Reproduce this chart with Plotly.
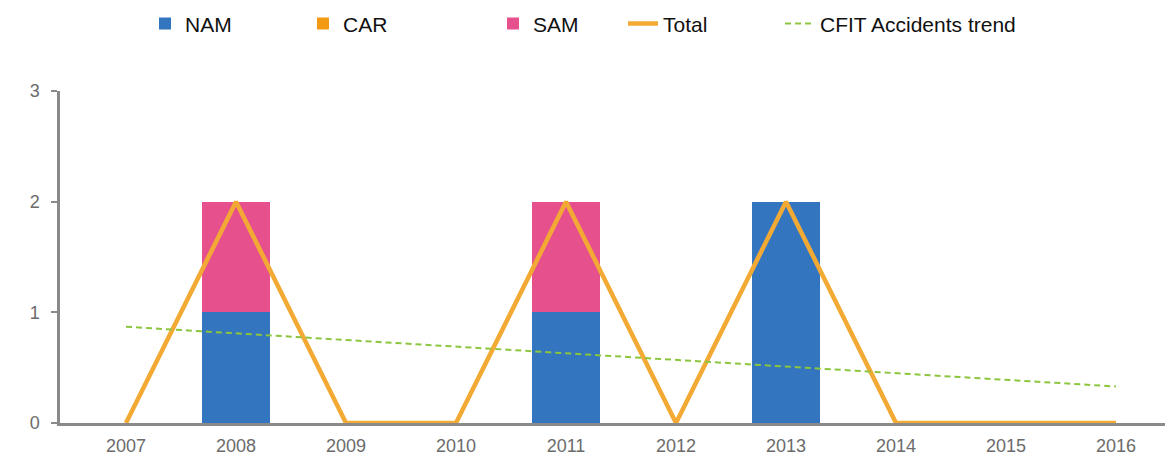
import plotly.graph_objects as go

years = ["2007", "2008", "2009", "2010", "2011", "2012", "2013", "2014", "2015", "2016"]
nam = [0, 1, 0, 0, 1, 0, 2, 0, 0, 0]
car = [0, 0, 0, 0, 0, 0, 0, 0, 0, 0]
sam = [0, 1, 0, 0, 1, 0, 0, 0, 0, 0]
total = [0, 2, 0, 0, 2, 0, 2, 0, 0, 0]
trend = [0.87, 0.81, 0.75, 0.69, 0.63, 0.57, 0.51, 0.45, 0.39, 0.33]

fig = go.Figure()
fig.add_trace(go.Bar(x=years, y=nam, name="NAM", legend="legend",
                     marker=dict(color="#3375BF", line=dict(width=0)), width=0.62))
fig.add_trace(go.Bar(x=years, y=car, name="CAR", legend="legend2",
                     marker=dict(color="#F39A12", line=dict(width=0)), width=0.62))
fig.add_trace(go.Bar(x=years, y=sam, name="SAM", legend="legend3",
                     marker=dict(color="#E6508D", line=dict(width=0)), width=0.62))
fig.add_trace(go.Scatter(x=years, y=total, name="Total", mode="lines", legend="legend4",
                         line=dict(color="#F2AA35", width=4.5)))
fig.add_trace(go.Scatter(x=years, y=trend, name="CFIT Accidents trend", mode="lines", legend="legend5",
                         line=dict(color="#8CC63F", width=2, dash="6px,4px")))

legend_font = dict(size=21, color="#111", family="Liberation Sans, Arial, sans-serif")
def leg(x):
    return dict(orientation="h", x=x, xanchor="left", y=0.965, yanchor="middle",
                xref="container", yref="container", font=legend_font,
                bgcolor="rgba(0,0,0,0)", itemwidth=30)

fig.update_layout(
    barmode="stack",
    width=1165, height=453,
    margin=dict(l=52, r=2, t=83, b=38),
    paper_bgcolor="white", plot_bgcolor="white",
    font=dict(family="Liberation Sans, Arial, sans-serif", color="#111"),
    showlegend=True,
    legend=leg(0.1176),
    legend2=leg(0.2532),
    legend3=leg(0.4163),
    legend4=leg(0.5279),
    legend5=leg(0.6627),
    xaxis=dict(type="category", range=[-0.6, 9.5], showgrid=False, zeroline=False,
               showline=True, linecolor="#8a8a8a", linewidth=2.5,
               ticks="", ticklabelstandoff=5, tickfont=dict(size=18, color="#6b6b6b")),
    yaxis=dict(range=[0, 3], tickvals=[0, 1, 2, 3], showgrid=False, zeroline=False,
               showline=True, linecolor="#8a8a8a", linewidth=2.5,
               ticks="outside", ticklen=6, tickwidth=2, tickcolor="#8a8a8a",
               ticklabelstandoff=8, tickfont=dict(size=18, color="#6b6b6b")),
)

fig.write_html("out.html")
